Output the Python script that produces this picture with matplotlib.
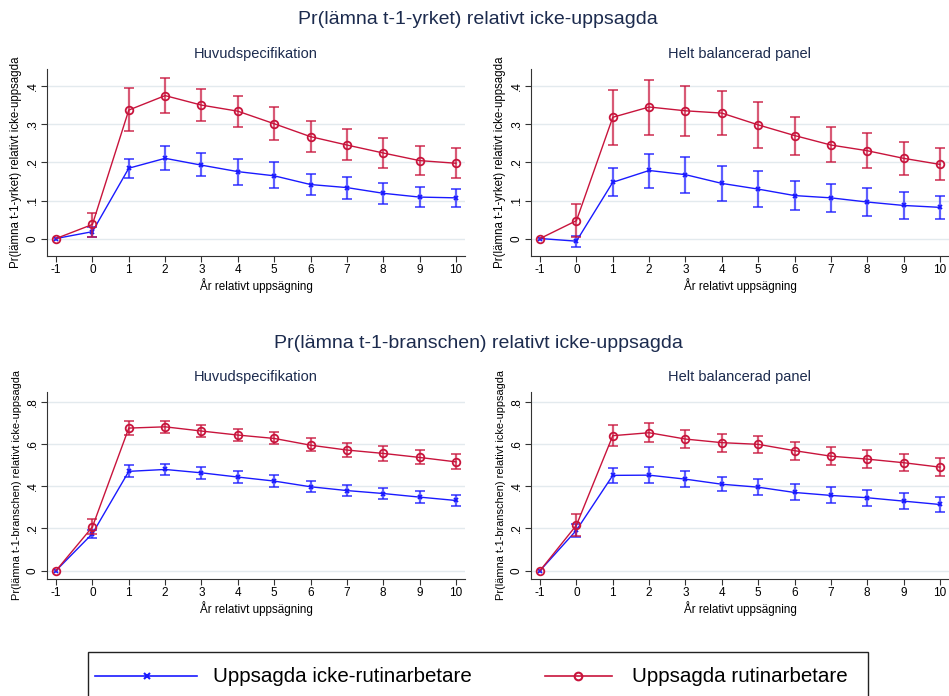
import numpy as np
import matplotlib
matplotlib.use("Agg")
import matplotlib.pyplot as plt
from matplotlib.patches import Rectangle
from matplotlib.lines import Line2D

plt.rcParams['font.family'] = ['Liberation Sans', 'DejaVu Sans']

years = [-1, 0, 1, 2, 3, 4, 5, 6, 7, 8, 9, 10]

# yrket, huvudspecifikation
yrke_huvud_rutin = [0, 0.037, 0.338, 0.376, 0.351, 0.335, 0.302, 0.268, 0.246, 0.225, 0.205, 0.198]
yrke_huvud_rutin_lo = [0, 0.004, 0.282, 0.331, 0.309, 0.294, 0.258, 0.228, 0.207, 0.186, 0.166, 0.159]
yrke_huvud_rutin_hi = [0, 0.068, 0.395, 0.422, 0.394, 0.375, 0.347, 0.309, 0.287, 0.265, 0.243, 0.237]
yrke_huvud_icke = [0, 0.018, 0.185, 0.211, 0.193, 0.176, 0.165, 0.142, 0.134, 0.119, 0.109, 0.107]
yrke_huvud_icke_lo = [0, 0.003, 0.158, 0.180, 0.164, 0.142, 0.132, 0.114, 0.105, 0.091, 0.082, 0.084]
yrke_huvud_icke_hi = [0, 0.031, 0.210, 0.243, 0.224, 0.208, 0.200, 0.171, 0.162, 0.147, 0.136, 0.129]

# yrket, helt balancerad panel
yrke_bal_rutin = [0, 0.047, 0.319, 0.346, 0.336, 0.330, 0.299, 0.271, 0.246, 0.231, 0.211, 0.195]
yrke_bal_rutin_lo = [0, 0.004, 0.247, 0.273, 0.271, 0.273, 0.238, 0.221, 0.200, 0.186, 0.167, 0.153]
yrke_bal_rutin_hi = [0, 0.090, 0.390, 0.418, 0.400, 0.387, 0.360, 0.321, 0.293, 0.278, 0.255, 0.237]
yrke_bal_icke = [0, -0.007, 0.148, 0.179, 0.168, 0.145, 0.130, 0.113, 0.107, 0.096, 0.087, 0.082]
yrke_bal_icke_lo = [0, -0.023, 0.111, 0.134, 0.121, 0.098, 0.083, 0.074, 0.069, 0.060, 0.052, 0.052]
yrke_bal_icke_hi = [0, 0.007, 0.185, 0.223, 0.214, 0.192, 0.178, 0.151, 0.144, 0.134, 0.123, 0.112]

# branschen, huvudspecifikation
bransch_huvud_rutin = [0, 0.207, 0.675, 0.681, 0.661, 0.642, 0.626, 0.594, 0.571, 0.555, 0.536, 0.515]
bransch_huvud_rutin_lo = [0, 0.172, 0.643, 0.653, 0.632, 0.613, 0.598, 0.566, 0.539, 0.520, 0.503, 0.479]
bransch_huvud_rutin_hi = [0, 0.243, 0.707, 0.710, 0.691, 0.670, 0.656, 0.626, 0.604, 0.588, 0.571, 0.550]
bransch_huvud_icke = [0, 0.175, 0.470, 0.479, 0.463, 0.443, 0.424, 0.397, 0.379, 0.365, 0.348, 0.332]
bransch_huvud_icke_lo = [0, 0.155, 0.444, 0.451, 0.436, 0.417, 0.397, 0.370, 0.353, 0.337, 0.318, 0.304]
bransch_huvud_icke_hi = [0, 0.194, 0.498, 0.507, 0.492, 0.471, 0.451, 0.422, 0.406, 0.392, 0.375, 0.359]

# branschen, helt balancerad panel
bransch_bal_rutin = [0, 0.215, 0.639, 0.653, 0.623, 0.606, 0.598, 0.568, 0.542, 0.528, 0.511, 0.490]
bransch_bal_rutin_lo = [0, 0.163, 0.588, 0.610, 0.580, 0.561, 0.555, 0.526, 0.501, 0.487, 0.470, 0.449]
bransch_bal_rutin_hi = [0, 0.266, 0.692, 0.697, 0.664, 0.647, 0.639, 0.610, 0.587, 0.571, 0.553, 0.531]
bransch_bal_icke = [0, 0.191, 0.451, 0.452, 0.433, 0.409, 0.395, 0.370, 0.356, 0.345, 0.329, 0.313]
bransch_bal_icke_lo = [0, 0.160, 0.414, 0.416, 0.397, 0.375, 0.359, 0.335, 0.319, 0.307, 0.292, 0.277]
bransch_bal_icke_hi = [0, 0.220, 0.485, 0.489, 0.470, 0.444, 0.432, 0.408, 0.394, 0.381, 0.367, 0.349]

main_titles = ["Pr(lämna t-1-yrket) relativt icke-uppsagda",
               "Pr(lämna t-1-branschen) relativt icke-uppsagda"]
y_labels = ["Pr(lämna t-1-yrket) relativt icke-uppsagda",
            "Pr(lämna t-1-branschen) relativt icke-uppsagda"]
sub_titles = ["Huvudspecifikation", "Helt balancerad panel"]
legend_labels = ["Uppsagda icke-rutinarbetare", "Uppsagda rutinarbetare"]

blue = "#1a1aff"
red = "#c8143c"
navy = "#1c2b4e"
grid_col = "#e3eaee"

W, H = 949, 696
fig = plt.figure(figsize=(W / 100, H / 100), dpi=100)


def ax_rect(x0, y0, x1, y1):
    return [x0 / W, 1 - y1 / H, (x1 - x0) / W, (y1 - y0) / H]


panels = [
    (ax_rect(47, 69, 465, 256), 0, 0,
     (yrke_huvud_icke, yrke_huvud_icke_lo, yrke_huvud_icke_hi),
     (yrke_huvud_rutin, yrke_huvud_rutin_lo, yrke_huvud_rutin_hi)),
    (ax_rect(531, 69, 949, 256), 0, 1,
     (yrke_bal_icke, yrke_bal_icke_lo, yrke_bal_icke_hi),
     (yrke_bal_rutin, yrke_bal_rutin_lo, yrke_bal_rutin_hi)),
    (ax_rect(47, 392, 465, 579), 1, 0,
     (bransch_huvud_icke, bransch_huvud_icke_lo, bransch_huvud_icke_hi),
     (bransch_huvud_rutin, bransch_huvud_rutin_lo, bransch_huvud_rutin_hi)),
    (ax_rect(531, 392, 949, 579), 1, 1,
     (bransch_bal_icke, bransch_bal_icke_lo, bransch_bal_icke_hi),
     (bransch_bal_rutin, bransch_bal_rutin_lo, bransch_bal_rutin_hi)),
]

for rect, row, col, icke, rutin in panels:
    ax = fig.add_axes(rect)
    x = np.array(years)
    for (est, lo, hi), c, mk, ms, mfc in [(icke, blue, "x", 3.5, blue),
                                          (rutin, red, "o", 5.5, "none")]:
        est = np.array(est)
        yerr = np.vstack([est - np.array(lo), np.array(hi) - est])
        ax.errorbar(x[1:], est[1:], yerr=yerr[:, 1:], fmt="none", ecolor=c,
                    alpha=0.7, elinewidth=1.6, capsize=3.5, capthick=1.4)
        ax.plot(x, est, color=c, lw=1.0, marker=mk, ms=ms, mfc=mfc, mec=c, mew=1.3)

    if row == 0:
        ax.set_ylim(-0.046, 0.446)
        yt = [0, 0.1, 0.2, 0.3, 0.4]
        ytl = ["0", ".1", ".2", ".3", ".4"]
    else:
        ax.set_ylim(-0.04, 0.846)
        yt = [0, 0.2, 0.4, 0.6, 0.8]
        ytl = ["0", ".2", ".4", ".6", ".8"]
    ax.set_yticks(yt)
    ax.set_yticklabels(ytl, rotation=90, va="center", fontsize=8.5)
    ax.set_xlim(-1.25, 10.25)
    ax.set_xticks(years)
    ax.set_xticklabels([str(v) for v in years], fontsize=8.5)
    ax.grid(axis="y", color=grid_col, lw=1.0)
    ax.set_axisbelow(True)
    for s in ["top", "right"]:
        ax.spines[s].set_visible(False)
    for s in ["left", "bottom"]:
        ax.spines[s].set_color("#333333")
        ax.spines[s].set_linewidth(0.8)
    ax.tick_params(length=4, width=0.8, color="#333333", pad=2)
    ax.set_xlabel("År relativt uppsägning", fontsize=8.4, labelpad=1)
    ax.set_ylabel(y_labels[row], fontsize=8.3 if row == 0 else 7.9, labelpad=3)
    ax.set_title(sub_titles[col], fontsize=10.5, color=navy, pad=8)

fig.text(478 / W, 1 - 20 / H, main_titles[0], ha="center", va="center",
         fontsize=14, color=navy)
fig.text(478 / W, 1 - 343 / H, main_titles[1], ha="center", va="center",
         fontsize=14, color=navy)

# legend box along the bottom
fig.patches.append(Rectangle((88 / W, -0.05), (868 - 88) / W, 0.05 + 1 - 652 / H,
                             transform=fig.transFigure, fill=False,
                             ec="#222222", lw=1.0))
ly = 1 - 676 / H
fig.add_artist(Line2D([95 / W, 197 / W], [ly, ly], color=blue, lw=1.2))
fig.add_artist(Line2D([147 / W], [ly], color=blue, marker="x", ms=4, mew=1.5))
fig.add_artist(Line2D([545 / W, 612 / W], [ly, ly], color=red, lw=1.2))
fig.add_artist(Line2D([578 / W], [ly], color=red, marker="o", ms=5.5, mfc="none", mew=1.5))
fig.text(213 / W, ly, legend_labels[0], ha="left", va="center", fontsize=14.8)
fig.text(632 / W, ly, legend_labels[1], ha="left", va="center", fontsize=14.8)

fig.savefig("out.png", dpi=100)
